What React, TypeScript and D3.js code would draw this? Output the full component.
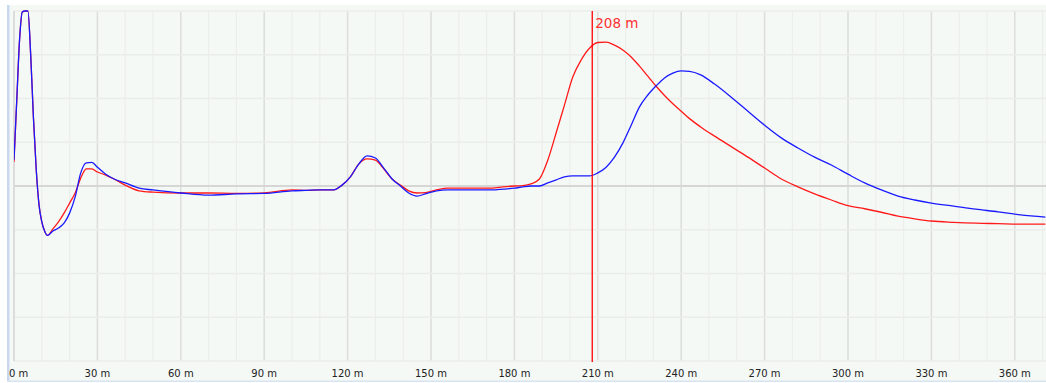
import * as d3 from "d3";

const W = 1046;
const H = 383;

// distance along cable (m)
const distance = [
  0, 1, 2, 3, 4, 5, 6, 7, 8, 9, 10, 11, 12, 14, 16, 18, 20, 22, 24, 26, 28, 30,
  33, 36, 40, 45, 50, 60, 70, 80, 90, 100, 105, 110, 115, 118, 121, 124, 127,
  130, 133, 136, 139, 142, 145, 148, 152, 156, 165, 172, 176, 180, 183, 186,
  189, 192, 195, 198, 201, 204, 207, 210, 213, 216, 219, 222, 225, 228, 231,
  234, 237, 240, 243, 247, 252, 258, 264, 270, 276, 282, 288, 294, 300, 306,
  312, 318, 324, 330, 338, 346, 354, 362, 371,
];

const redTrace = [
  0.55, 1.97, 3.34, 3.98, 4.0, 4.0, 3.0, 1.55, 0.37, -0.43, -0.82, -1.03, -1.13,
  -0.98, -0.82, -0.62, -0.39, -0.16, 0.18, 0.39, 0.39, 0.32, 0.25, 0.16, 0.02,
  -0.11, -0.14, -0.16, -0.16, -0.17, -0.16, -0.09, -0.1, -0.09, -0.09, 0.02,
  0.21, 0.5, 0.62, 0.59, 0.39, 0.16, 0.02, -0.11, -0.16, -0.15, -0.09, -0.05,
  -0.05, -0.05, -0.02, 0, 0.01, 0.05, 0.16, 0.59, 1.21, 1.85, 2.49, 2.88, 3.15,
  3.28, 3.29, 3.22, 3.11, 2.95, 2.74, 2.51, 2.28, 2.07, 1.88, 1.71, 1.54, 1.35,
  1.14, 0.9, 0.66, 0.41, 0.16, -0.02, -0.18, -0.32, -0.45, -0.52, -0.6, -0.69,
  -0.75, -0.8, -0.83, -0.85, -0.86, -0.87, -0.87,
];

const blueTrace = [
  0.6, 1.97, 3.34, 3.98, 4.0, 4.0, 3.0, 1.55, 0.37, -0.43, -0.82, -1.03, -1.13,
  -1.03, -0.96, -0.85, -0.62, -0.25, 0.3, 0.53, 0.54, 0.43, 0.27, 0.16, 0.07,
  -0.05, -0.09, -0.16, -0.21, -0.18, -0.17, -0.11, -0.1, -0.09, -0.09, 0.02,
  0.21, 0.5, 0.69, 0.64, 0.41, 0.16, 0.0, -0.16, -0.23, -0.18, -0.11, -0.09,
  -0.09, -0.09, -0.07, -0.05, -0.02, 0, 0, 0.07, 0.14, 0.21, 0.23, 0.23, 0.23,
  0.3, 0.43, 0.66, 0.98, 1.39, 1.81, 2.08, 2.29, 2.47, 2.58, 2.63, 2.62, 2.54,
  2.33, 2.03, 1.71, 1.39, 1.1, 0.87, 0.66, 0.48, 0.27, 0.07, -0.09, -0.23,
  -0.32, -0.39, -0.46, -0.53, -0.59, -0.66, -0.71,
];

const xTicks = [0, 30, 60, 90, 120, 150, 180, 210, 240, 270, 300, 330, 360];
const markerAt = 208;

export default function App() {
  const left = 14;
  const top = 11;
  const bottom = 361;

  const x = d3.scaleLinear().domain([0, 360]).range([left, left + 2.78 * 360]);
  const y = d3.scaleLinear().domain([-4, 4]).range([bottom, top]);

  const line = d3
    .line<number>()
    .x((_, i) => x(distance[i]))
    .y((d) => y(d))
    .curve(d3.curveMonotoneX);

  const minor = d3.range(0, 380, 10);
  const hLines = d3.range(-4, 5, 1);

  return (
    <svg
      width={W}
      height={H}
      style={{ position: "absolute", left: 0, top: 0, display: "block" }}
    >
      <defs>
        <clipPath id="plot">
          <rect x={left} y={top - 1} width={W - left} height={bottom - top + 2} />
        </clipPath>
      </defs>
      <rect width={W} height={H} fill="#ffffff" />
      <rect x={9} y={5} width={W - 9} height={376} fill="#f5f9f6" />
      <rect x={7} y={5} width={2.5} height={377} fill="#c9d8ef" />
      <rect x={7} y={380.5} width={W - 7} height={1.5} fill="#d8e4f0" />

      {/* grid */}
      {minor.map((m) => (
        <line
          key={"v" + m}
          x1={x(m)}
          x2={x(m)}
          y1={top}
          y2={bottom}
          stroke={m % 30 === 0 ? "#dddfdd" : "#eceeec"}
          strokeWidth={m % 30 === 0 ? 1.6 : 1.2}
        />
      ))}
      {hLines.map((v) => (
        <line
          key={"h" + v}
          x1={left}
          x2={W}
          y1={y(v)}
          y2={y(v)}
          stroke={v === 0 ? "#d6d6d6" : "#eaedea"}
          strokeWidth={v === 0 ? 2.2 : 1.4}
        />
      ))}
      <line x1={left} x2={left} y1={top} y2={bottom} stroke="#dcdcdc" strokeWidth={2} />

      <g clipPath="url(#plot)">
        <path d={line(redTrace) ?? ""} fill="none" stroke="#ff1a1a" strokeWidth={1.3} />
        <path d={line(blueTrace) ?? ""} fill="none" stroke="#1a1aff" strokeWidth={1.3} />
      </g>

      {/* marker */}
      <line
        x1={x(markerAt)}
        x2={x(markerAt)}
        y1={top}
        y2={bottom + 1}
        stroke="#ff0000"
        strokeWidth={1.3}
      />
      <text
        x={x(markerAt) + 3}
        y={28}
        fontFamily="DejaVu Sans, sans-serif"
        fontSize={13.5}
        fill="#ff3030"
      >
        {markerAt} m
      </text>

      {xTicks.map((t) => (
        <text
          key={"t" + t}
          x={t === 0 ? x(t) - 5 : x(t)}
          y={377}
          textAnchor={t === 0 ? "start" : "middle"}
          fontFamily="DejaVu Sans, sans-serif"
          fontSize={10}
          fill="#222"
        >
          {t} m
        </text>
      ))}
    </svg>
  );
}
